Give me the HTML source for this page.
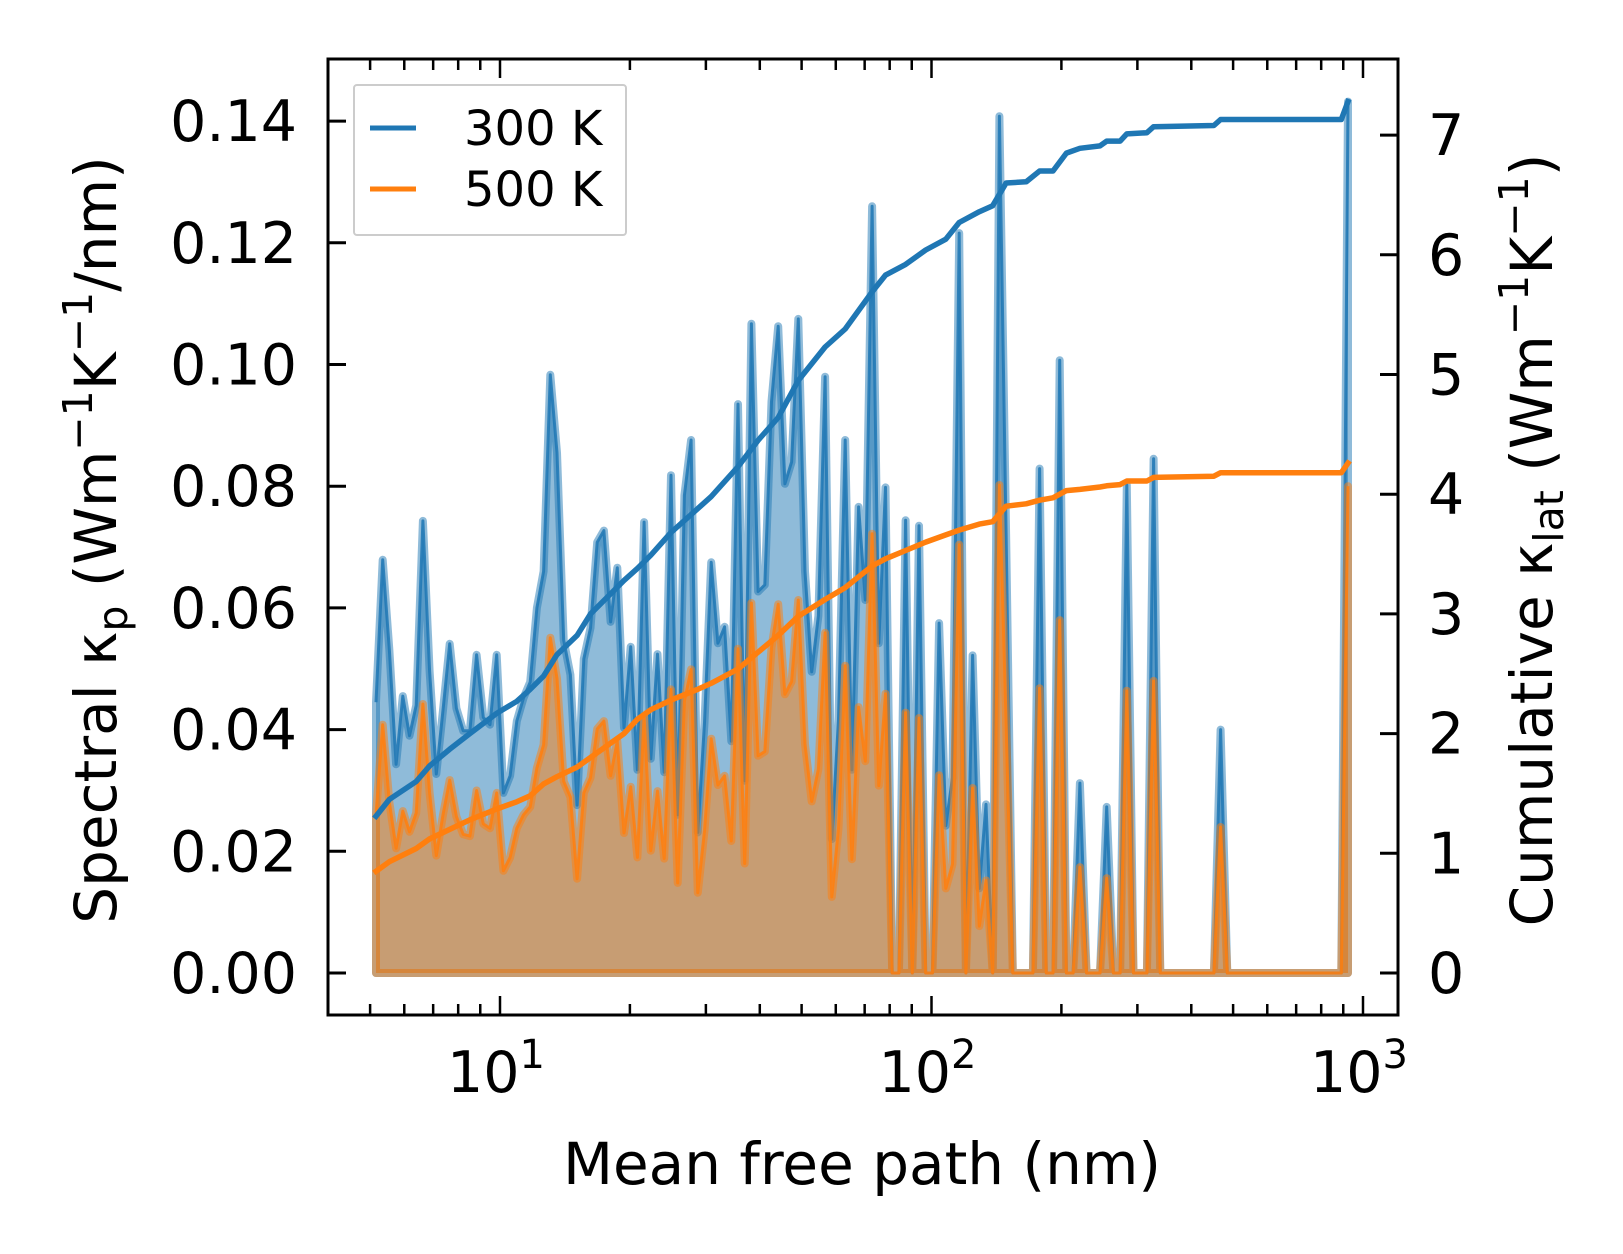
<!DOCTYPE html>
<html><head><meta charset="utf-8"><style>
html,body{margin:0;padding:0;background:#fff;}
svg{display:block;font-family:"DejaVu Sans","Liberation Sans",sans-serif;}
</style></head><body>
<svg id="chart" width="1623" height="1254" viewBox="0 0 1623 1254" xmlns="http://www.w3.org/2000/svg">
<rect width="1623" height="1254" fill="#fff"/>
<g id="plot"></g>
<g id="axes"></g>
<g>
<rect x="354" y="85" width="272" height="150" rx="3" fill="#fff" fill-opacity="0.8" stroke="#cccccc" stroke-width="2"/>
<line x1="370" y1="128" x2="416" y2="128" stroke="#1f77b4" stroke-width="5"/>
<text x="464" y="145" font-size="48">300 K</text>
<line x1="370" y1="189" x2="416" y2="189" stroke="#ff7f0e" stroke-width="5"/>
<text x="464" y="206" font-size="48">500 K</text>
</g>
<text x="862" y="1184" font-size="58" text-anchor="middle">Mean free path (nm)</text>
<text transform="translate(116,540) rotate(-90)" font-size="58" text-anchor="middle">Spectral κ<tspan font-size="41" dy="11">p</tspan><tspan dy="-11"> (Wm</tspan><tspan font-size="41" dy="-24">−1</tspan><tspan dy="24">K</tspan><tspan font-size="41" dy="-24">−1</tspan><tspan dy="24">/nm)</tspan></text>
<text transform="translate(1552,540) rotate(-90)" font-size="58" text-anchor="middle">Cumulative κ<tspan font-size="41" dy="11">lat</tspan><tspan dy="-11"> (Wm</tspan><tspan font-size="41" dy="-24">−1</tspan><tspan dy="24">K</tspan><tspan font-size="41" dy="-24">−1</tspan><tspan dy="24">)</tspan></text>
</svg>
<script>
const spec300 = [0.0445,0.0679,0.053,0.0343,0.0455,0.039,0.044,0.0743,0.0496,0.0327,0.0432,0.0541,0.0435,0.0398,0.0398,0.0523,0.042,0.0408,0.0523,0.0296,0.0324,0.0414,0.0452,0.0478,0.06,0.066,0.0983,0.0855,0.0547,0.049,0.0276,0.0516,0.0567,0.0708,0.0727,0.0577,0.0666,
0.0403,0.0536,0.0334,0.0741,0.0352,0.0524,0.033,0.0818,0.026,0.0785,0.0876,0.0231,0.0411,0.0675,0.0542,0.0569,0.0381,0.0935,0.0316,0.1067,0.0627,0.0638,0.0939,0.1063,0.0804,0.084,0.1075,0.066,0.0495,0.0587,0.098,0.022,0.0417,0.0876,0.0334,0.0766,0.0613,0.126,0.0542,
0.0798,0,0,0.0744,0,0.0735,0,0,0.0575,0.0242,0.0321,0.1216,0,0.0522,0.0139,0.0277,0,0.1408,0.0722,0,0,0,0,0.0829,0,0,0.1007,0,0,0.0312,0,0,0,0.0273,0,0,0.0802,0,0,0,0.0845,
0,0,0,0,0,0,0,0,0,0.04,0,0,0,0,0,0,0,0,0,0,0,0,0,0,0,0,0,0,0.1432];
const spec500 = [0.026,0.0408,0.028,0.0205,0.0266,0.0232,0.0263,0.0442,0.0296,0.0193,0.026,0.0317,0.0257,0.0228,0.0225,0.03,0.0245,0.0238,0.0296,0.0168,0.019,0.0238,0.026,0.0273,0.0337,0.0375,0.0551,0.0484,0.0315,0.0289,0.0155,0.0296,0.0321,0.0401,0.0414,0.0324,0.0381,
0.023,0.0306,0.019,0.0422,0.0201,0.0299,0.0188,0.0466,0.0148,0.0447,0.0499,0.0132,0.0234,0.0385,0.0309,0.0324,0.0217,0.0533,0.018,0.0608,0.0357,0.0364,0.0535,0.0606,0.0458,0.0479,0.0613,0.0376,0.0282,0.0335,0.0559,0.0125,0.0238,0.0505,0.0187,0.0437,0.0348,0.0722,0.0308,
0.0459,0,0,0.0428,0,0.0419,0,0,0.0325,0.0139,0.0179,0.0704,0,0.0304,0.0077,0.0152,0,0.0802,0.041,0,0,0,0,0.0468,0,0,0.058,0,0,0.0174,0,0,0,0.0156,0,0,0.0464,0,0,0,0.048,
0,0,0,0,0,0,0,0,0,0.024,0,0,0,0,0,0,0,0,0,0,0,0,0,0,0,0,0,0,0.080];
const mfpMin = 5.16, mfpMax = 923;
const cumIdx = [0,2,6,8,11,14,18,21,23,25,27,30,32,37,39,41,44,48,50,54,57,60,63,67,70,74,76,79,82,85,87,90,92,94,97,99,101,103,105,108,109,111,112,115,116,125,126,144,145];
const cum300 = [1.31,1.45,1.6,1.73,1.87,2.0,2.17,2.27,2.37,2.48,2.66,2.82,3.0,3.28,3.38,3.49,3.68,3.88,3.98,4.23,4.45,4.64,4.95,5.23,5.38,5.69,5.83,5.92,6.04,6.13,6.27,6.36,6.41,6.6,6.61,6.7,6.7,6.85,6.89,6.91,6.95,6.95,7.01,7.02,7.07,7.08,7.13,7.13,7.28];
const cum500 = [0.85,0.93,1.04,1.12,1.2,1.28,1.37,1.43,1.48,1.58,1.64,1.72,1.8,2.0,2.12,2.2,2.28,2.37,2.42,2.54,2.68,2.82,2.98,3.12,3.22,3.4,3.46,3.53,3.6,3.66,3.7,3.75,3.77,3.9,3.92,3.95,3.97,4.03,4.04,4.06,4.07,4.08,4.11,4.11,4.14,4.15,4.18,4.18,4.26];
const leftTicks = [0,0.02,0.04,0.06,0.08,0.10,0.12,0.14];
const leftTickLabels = ["0.00","0.02","0.04","0.06","0.08","0.10","0.12","0.14"];
const rightTicks = [0,1,2,3,4,5,6,7];
const xMajor = [10,100,1000];
const xMajorExp = ["1","2","3"];

const NS="http://www.w3.org/2000/svg";
const L=328,R=1398,T=59,B=1015;
function xS(v){return 500+(Math.log10(v)-1)*431.5;}
function yL(v){return 973-v*6085;}
function yR(v){return 973-v*119.7;}
function binMfp(i,n){const a=Math.log10(mfpMin),b=Math.log10(mfpMax);return Math.pow(10,a+i*(b-a)/(n-1));}
function mk(tag,attrs,parent){const e=document.createElementNS(NS,tag);for(const k in attrs)e.setAttribute(k,attrs[k]);parent.appendChild(e);return e;}
const plot=document.getElementById('plot'), axes=document.getElementById('axes');

function drawSpectral(vals,color,name){
  const n=vals.length;
  const pts=vals.map((v,i)=>[xS(binMfp(i,n)),yL(v)]);
  let d='M'+pts[0][0].toFixed(1)+','+yL(0).toFixed(1);
  pts.forEach(p=>{d+=' L'+p[0].toFixed(1)+','+p[1].toFixed(1);});
  d+=' L'+pts[n-1][0].toFixed(1)+','+yL(0).toFixed(1)+' Z';
  const f=mk('path',{d:d,fill:color,'fill-opacity':0.5,stroke:color,'stroke-opacity':0.5,'stroke-width':8,'stroke-linejoin':'round'},plot);
  
  
  const l=mk('polyline',{points:pts.map(p=>p[0].toFixed(1)+','+p[1].toFixed(1)).join(' '),fill:'none',stroke:color,'stroke-opacity':0.85,'stroke-width':3,'stroke-linejoin':'round'},plot);
  
  
}
drawSpectral(spec300,'#1f77b4','spectral-300k');
drawSpectral(spec500,'#ff7f0e','spectral-500k');

function drawCum(vals,color,name){
  const n=spec300.length;
  const pts=vals.map((v,k)=>xS(binMfp(cumIdx[k],n)).toFixed(1)+','+yR(v).toFixed(1)).join(' ');
  const l=mk('polyline',{points:pts,fill:'none',stroke:color,'stroke-width':5.5,'stroke-linejoin':'round','stroke-linecap':'square'},plot);
  
  
}
drawCum(cum300,'#1f77b4','cumulative-300k-line');
drawCum(cum500,'#ff7f0e','cumulative-500k-line');

const sp=mk('rect',{x:L,y:T,width:R-L,height:B-T,fill:'none',stroke:'#000','stroke-width':3},axes);


leftTicks.forEach((v,i)=>{
  const y=yL(v);
  const t=mk('line',{x1:L,x2:L+18,y1:y,y2:y,stroke:'#000','stroke-width':3},axes);
  
  
  const tx=mk('text',{x:297,y:y+20,'font-size':57,'text-anchor':'end'},axes);
  tx.textContent=leftTickLabels[i];
  
  
});
rightTicks.forEach(v=>{
  const y=yR(v);
  const t=mk('line',{x1:R-18,x2:R,y1:y,y2:y,stroke:'#000','stroke-width':3},axes);
  
  
  const tx=mk('text',{x:1428,y:y+20,'font-size':57},axes);
  tx.textContent=String(v);
  
  
});
for(let dec=1;dec<=1000;dec*=10){
  for(let m=1;m<=9;m++){
    const v=dec*m; const x=xS(v);
    if(x<L+2||x>R-2)continue;
    const len=m===1?19:11;
    [[B,B-len],[T,T+len]].forEach(([a,b])=>{
      const t=mk('line',{x1:x,x2:x,y1:a,y2:b,stroke:'#000','stroke-width':2.5},axes);
      
      
    });
  }
}
xMajor.forEach((v,i)=>{
  const x=xS(v);
  const tx=mk('text',{x:x-4,y:1092,'font-size':57,'text-anchor':'middle'},axes);
  tx.textContent='10';
  const s=mk('tspan',{'font-size':40,dy:-24},tx);
  s.textContent=xMajorExp[i];
  
  
});
</script>
</body></html>
